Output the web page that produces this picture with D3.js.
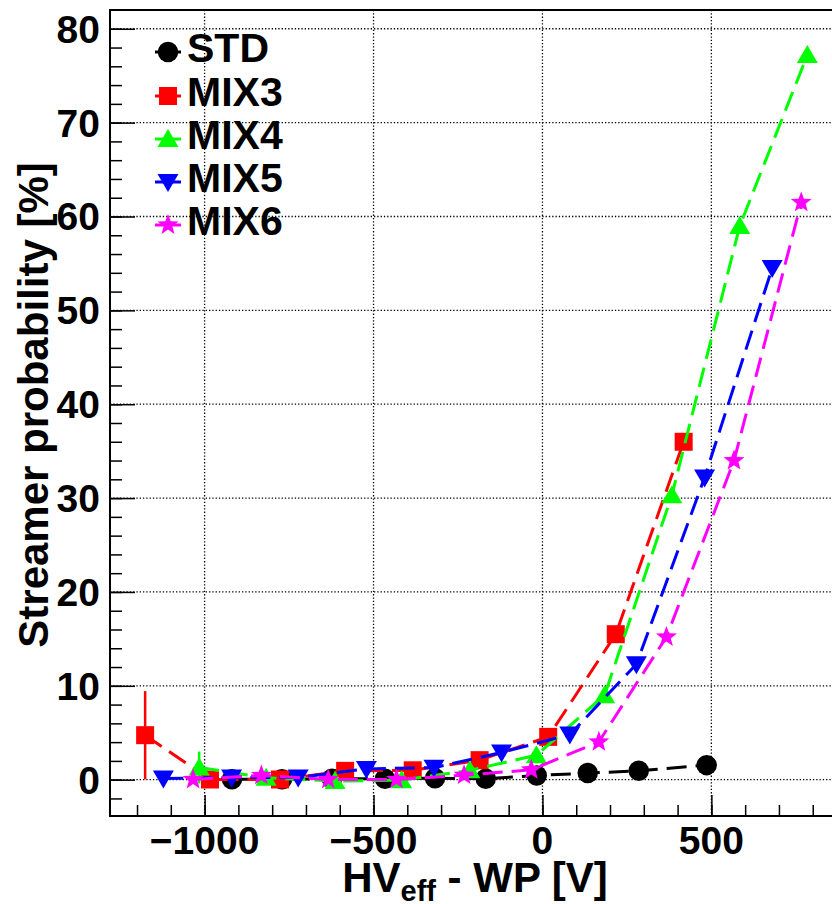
<!DOCTYPE html>
<html>
<head>
<meta charset="utf-8">
<script src="https://cdn.jsdelivr.net/npm/d3@7.9.0/dist/d3.min.js"></script>
<style>
  body { margin: 0; background: #fff; }
  svg { display: block; font-family: "Liberation Sans", Arial, Helvetica, sans-serif; font-weight: bold; }
</style>
</head>
<body>
<svg id="chart" width="832" height="904"></svg>
<script>
// values
const stdHV = [-919, -771, -623, -466, -318, -168, -17, 134, 285, 486];
const stdProb = [0.05, 0.05, 0.1, 0.1, 0.15, 0.1, 0.45, 0.7, 0.95, 1.55];
const stdErr = [0, 0, 0, 0, 0, 0, 0, 0, 0, 0];

const mix3HV = [-1176, -984, -777, -584, -384, -186, 17, 217, 418];
const mix3Prob = [4.74, 0.02, 0.02, 0.94, 1.0, 2.08, 4.56, 15.5, 36.0];
const mix3Err = [4.7, 0, 0, 0, 0, 0, 0, 0, 0];

const mix4HV = [-1016, -818, -614, -417, -215, -18, 184, 383, 584, 784];
const mix4Prob = [1.3, 0.2, -0.15, -0.05, 1.0, 2.6, 9.0, 30.3, 59.0, 77.2];
const mix4Err = [1.7, 0, 0, 0, 0, 0, 0, 0, 0, 0];

const mix5HV = [-1122, -920, -723, -521, -321, -121, 81, 278, 480, 680];
const mix5Prob = [0.12, 0.23, 0.23, 1.15, 1.28, 2.9, 4.8, 12.3, 32.2, 54.5];
const mix5Err = [0, 0, 0, 0, 0, 0, 0, 0, 0, 0];

const mix6HV = [-1034, -832, -634, -432, -232, -33, 167, 367, 567, 766];
const mix6Prob = [0.02, 0.45, 0.02, 0.02, 0.48, 1.05, 4.03, 15.2, 34.0, 61.5];
const mix6Err = [0, 0, 0, 0, 0, 0, 0, 0, 0, 0.7];

const seriesNames = ['STD', 'MIX3', 'MIX4', 'MIX5', 'MIX6'];
const seriesColors = ['#000000', '#ff0000', '#00ff00', '#0000ff', '#ff00ff'];
const seriesMarkers = ['circle', 'square', 'triUp', 'triDown', 'star'];

const xTicks = [-1000, -500, 0, 500];
const yTicks = [0, 10, 20, 30, 40, 50, 60, 70, 80];

const series = [
  [stdHV, stdProb, stdErr],
  [mix3HV, mix3Prob, mix3Err],
  [mix4HV, mix4Prob, mix4Err],
  [mix5HV, mix5Prob, mix5Err],
  [mix6HV, mix6Prob, mix6Err],
].map(([hv, prob, err], i) => ({
  name: seriesNames[i],
  color: seriesColors[i],
  marker: seriesMarkers[i],
  points: hv.map((v, j) => ({ x: v, y: prob[j], e: err[j] })),
}));

const frameL = 110, frameR = 833, frameT = 10, frameB = 816;
const svg = d3.select('#chart');

const x = d3.scaleLinear().domain([-1280, 860]).range([frameL, frameR]);
const y = d3.scaleLinear().domain([-3.87, 82]).range([frameB, frameT]);

// grid
const grid = svg.append('g')
  .attr('stroke', '#000')
  .attr('stroke-width', 1.3)
  .attr('stroke-dasharray', '1.3,2');

grid.selectAll('.gx').data(xTicks).join('line')
  .attr('x1', (d) => x(d)).attr('x2', (d) => x(d))
  .attr('y1', frameT).attr('y2', frameB);

grid.selectAll('.gy').data(yTicks).join('line')
  .attr('x1', frameL).attr('x2', frameR)
  .attr('y1', (d) => y(d)).attr('y2', (d) => y(d));

// axes: ROOT style, ticks pointing inwards
const xAxis = d3.axisTop(x)
  .tickValues(d3.range(-1200, 801, 100))
  .tickSize(11)
  .tickFormat('');
const xAxisMajor = d3.axisTop(x).tickValues(xTicks).tickSize(21).tickFormat('');

const yAxis = d3.axisRight(y)
  .tickValues(d3.range(-2, 82, 2))
  .tickSize(12)
  .tickFormat('');
const yAxisMajor = d3.axisRight(y).tickValues(yTicks).tickSize(25).tickFormat('');

for (const ax of [xAxis, xAxisMajor]) {
  svg.append('g').attr('transform', `translate(0,${frameB})`).call(ax)
    .call((g) => g.select('.domain').remove())
    .selectAll('line').attr('stroke', '#000').attr('stroke-width', 1.5);
}
for (const ax of [yAxis, yAxisMajor]) {
  svg.append('g').attr('transform', `translate(${frameL},0)`).call(ax)
    .call((g) => g.select('.domain').remove())
    .selectAll('line').attr('stroke', '#000').attr('stroke-width', 1.5);
}

// frame
svg.append('rect')
  .attr('x', frameL).attr('y', frameT)
  .attr('width', frameR - frameL).attr('height', frameB - frameT)
  .attr('fill', 'none').attr('stroke', '#000').attr('stroke-width', 2);

// tick labels
const fmt = d3.format('d');
svg.append('g').selectAll('text').data(xTicks).join('text')
  .attr('x', (d) => x(d)).attr('y', 854)
  .attr('text-anchor', 'middle')
  .attr('font-size', 39)
  .text((d) => fmt(d));

svg.append('g').selectAll('text').data(yTicks).join('text')
  .attr('x', 100).attr('y', (d) => y(d) + 14)
  .attr('text-anchor', 'end')
  .attr('font-size', 39)
  .text((d) => fmt(d));

// axis titles
const xTitle = svg.append('text')
  .attr('x', 475).attr('y', 892)
  .attr('text-anchor', 'middle')
  .attr('font-size', 42);
xTitle.append('tspan').text('HV');
xTitle.append('tspan').attr('font-size', 29).attr('dy', 9).text('eff');
xTitle.append('tspan').attr('dy', -9).text(' - WP [V]');

svg.append('text')
  .attr('transform', 'translate(48,405) rotate(-90)')
  .attr('text-anchor', 'middle')
  .attr('font-size', 42)
  .text('Streamer probability [%]');

// marker shapes
function markerPath(type) {
  if (type === 'circle') return d3.symbol(d3.symbolCircle, 330)();
  if (type === 'square') return d3.line()([[-9, -9], [9, -9], [9, 9], [-9, 9]]) + 'Z';
  if (type === 'triUp') return d3.line()([[0, -10], [10.5, 8], [-10.5, 8]]) + 'Z';
  if (type === 'triDown') return d3.line()([[0, 10], [10.5, -8], [-10.5, -8]]) + 'Z';
  const pts = d3.range(10).map((k) => {
    const r = k % 2 === 0 ? 11 : 4.6;
    const a = -Math.PI / 2 + k * Math.PI / 5;
    return [r * Math.cos(a), r * Math.sin(a)];
  });
  return d3.line()(pts) + 'Z';
}

const line = d3.line().x((d) => x(d.x)).y((d) => y(d.y));

for (const s of series) {
  const g = svg.append('g');
  g.append('path')
    .attr('d', line(s.points))
    .attr('fill', 'none')
    .attr('stroke', s.color)
    .attr('stroke-width', 3)
    .attr('stroke-dasharray', '20,9');

  g.selectAll('.err').data(s.points.filter((p) => p.e > 0)).join('line')
    .attr('x1', (d) => x(d.x)).attr('x2', (d) => x(d.x))
    .attr('y1', (d) => y(d.y - d.e)).attr('y2', (d) => y(d.y + d.e))
    .attr('stroke', s.color)
    .attr('stroke-width', 2.5);

  g.selectAll('.mk').data(s.points).join('path')
    .attr('transform', (d) => `translate(${x(d.x)},${y(d.y)})`)
    .attr('d', markerPath(s.marker))
    .attr('fill', s.color);
}

// legend
const legendRows = [52, 96, 139, 182, 225];
const legend = svg.append('g');
series.forEach((s, i) => {
  const ly = legendRows[i];
  legend.append('line')
    .attr('x1', 155).attr('x2', 181)
    .attr('y1', ly).attr('y2', ly)
    .attr('stroke', s.color).attr('stroke-width', 3);
  legend.append('path')
    .attr('transform', `translate(168,${ly})`)
    .attr('d', markerPath(s.marker))
    .attr('fill', s.color);
  legend.append('text')
    .attr('x', 187).attr('y', ly + 10)
    .attr('font-size', 41)
    .text(s.name);
});
</script>
</body>
</html>
